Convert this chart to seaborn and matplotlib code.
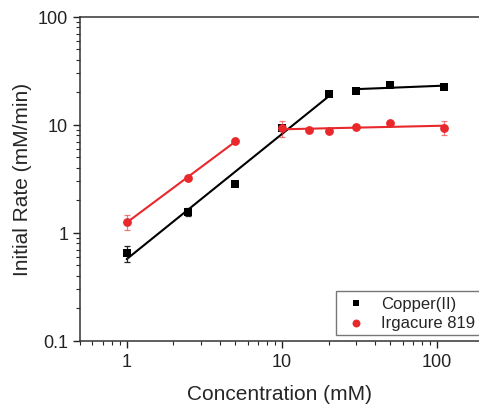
import matplotlib
matplotlib.use("Agg")
import matplotlib.pyplot as plt
import numpy as np
import pandas as pd
import seaborn as sns
from matplotlib.ticker import LogLocator, NullFormatter, FixedLocator, FixedFormatter

# Data
cu_conc = [1, 2.5, 5, 10, 20, 30, 50, 110]
cu_rate = [0.65, 1.56, 2.84, 9.4, 19.4, 20.6, 23.5, 22.5]
cu_err = [0.11, 0.13, 0.0, 0.0, 0.0, 0.0, 0.0, 0.0]

irg_conc = [1, 2.5, 5, 10, 15, 20, 30, 50, 110]
irg_rate = [1.26, 3.23, 7.1, 9.3, 9.0, 8.8, 9.6, 10.4, 9.4]
irg_err = [0.19, 0.0, 0.0, 1.5, 0.0, 0.0, 0.0, 0.0, 1.4]

# fit segments (index ranges) for the power-law lines
cu_segments = [(0, 5), (5, 8)]
irg_segments = [(0, 3), (3, 9)]

BLACK = "black"
RED = "#e8282b"

sns.set_style("ticks")
plt.rcParams["font.family"] = ["Liberation Sans", "DejaVu Sans"]

fig = plt.figure(figsize=(4.79, 4.06), dpi=100)
ax = fig.add_axes([0.167, 0.158, 0.833, 0.798])


def fit_lines(x, y, segments, color):
    x = np.asarray(x, dtype=float)
    y = np.asarray(y, dtype=float)
    for a, b in segments:
        lx, ly = np.log10(x[a:b]), np.log10(y[a:b])
        slope, icpt = np.polyfit(lx, ly, 1)
        xs = np.array([x[a], x[b - 1]])
        seg = pd.DataFrame({"x": xs, "y": 10 ** (icpt + slope * np.log10(xs))})
        sns.lineplot(data=seg, x="x", y="y", color=color, lw=1.5, ax=ax, legend=False)


fit_lines(cu_conc, cu_rate, cu_segments, BLACK)
fit_lines(irg_conc, irg_rate, irg_segments, RED)

ax.errorbar(cu_conc, cu_rate, yerr=cu_err, fmt="none", ecolor="#222222", elinewidth=0.9, capsize=2.5, capthick=0.9)
ax.errorbar(irg_conc, irg_rate, yerr=irg_err, fmt="none", ecolor=RED, elinewidth=0.9, capsize=2.5, capthick=0.9, alpha=0.6)

df_cu = pd.DataFrame({"x": cu_conc, "y": cu_rate})
df_irg = pd.DataFrame({"x": irg_conc, "y": irg_rate})
sns.scatterplot(data=df_cu, x="x", y="y", marker="s", s=30, color=BLACK, edgecolor=BLACK, linewidth=0, ax=ax, label="Copper(II)", zorder=5)
sns.scatterplot(data=df_irg, x="x", y="y", marker="o", s=40, color=RED, edgecolor=RED, linewidth=0, ax=ax, label="Irgacure 819", zorder=5)

ax.set_xscale("log")
ax.set_yscale("log")
ax.set_xlim(0.5, 186)
ax.set_ylim(0.1, 100)

ax.xaxis.set_major_locator(FixedLocator([1, 10, 100]))
ax.xaxis.set_major_formatter(FixedFormatter(["1", "10", "100"]))
ax.xaxis.set_minor_locator(LogLocator(base=10, subs=np.arange(2, 10), numticks=10))
ax.xaxis.set_minor_formatter(NullFormatter())
ax.yaxis.set_major_locator(FixedLocator([0.1, 1, 10, 100]))
ax.yaxis.set_major_formatter(FixedFormatter(["0.1", "1", "10", "100"]))
ax.yaxis.set_minor_locator(LogLocator(base=10, subs=np.arange(2, 10), numticks=10))
ax.yaxis.set_minor_formatter(NullFormatter())

ax.tick_params(axis="both", which="major", direction="out", length=5, width=1, labelsize=13, colors="#222222")
ax.tick_params(axis="both", which="minor", direction="out", length=3, width=0.8)

for side in ["left", "bottom", "top"]:
    ax.spines[side].set_color("#333333")
    ax.spines[side].set_linewidth(1.1)
ax.spines["right"].set_visible(False)
ax.spines["top"].set_visible(True)

ax.set_xlabel("Concentration (mM)", fontsize=15, labelpad=10)
ax.set_ylabel("Initial Rate (mM/min)", fontsize=15, labelpad=4)

leg = ax.legend(loc="lower right", fontsize=12, frameon=True, fancybox=False,
                edgecolor="#555555", borderpad=0.3, labelspacing=0.25,
                handletextpad=0.6, handlelength=1.8, markerscale=0.9,
                borderaxespad=0, bbox_to_anchor=(1.004, 0.018))
leg.get_frame().set_linewidth(1.0)

fig.savefig("out.png", dpi=100)
